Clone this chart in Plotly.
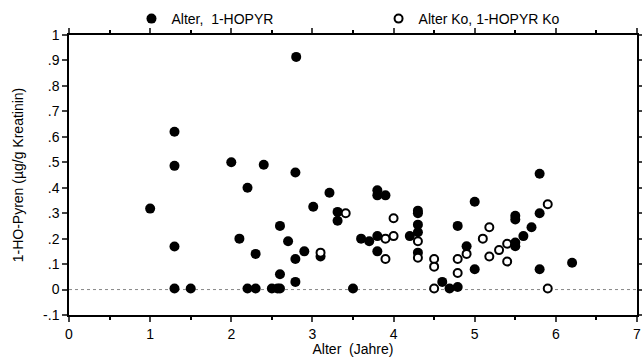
import plotly.graph_objects as go

# Filled series: Alter, 1-HOPYR
alter = [1.0, 1.3, 1.3, 1.3, 1.3, 1.5, 2.0, 2.1, 2.2, 2.2, 2.3, 2.3, 2.4, 2.5, 2.57,
         2.6, 2.6, 2.6, 2.7, 2.79, 2.79, 2.79, 2.8, 2.9, 3.01, 3.1, 3.21, 3.31, 3.31,
         3.5, 3.6, 3.7, 3.8, 3.8, 3.8, 3.8, 3.9, 4.2, 4.3, 4.3, 4.3, 4.3, 4.3,
         4.6, 4.69, 4.79, 4.79, 4.9, 5.0, 5.0, 5.5, 5.5, 5.5, 5.5, 5.6, 5.7,
         5.8, 5.8, 5.8, 6.2]
hopyr = [0.318, 0.62, 0.486, 0.169, 0.004, 0.004, 0.50, 0.20, 0.40, 0.004, 0.14, 0.004, 0.49, 0.004, 0.004,
         0.25, 0.06, 0.004, 0.19, 0.46, 0.12, 0.03, 0.914, 0.15, 0.325, 0.13, 0.38, 0.305, 0.27,
         0.004, 0.20, 0.19, 0.39, 0.37, 0.21, 0.15, 0.37, 0.21, 0.31, 0.30, 0.255, 0.225, 0.145,
         0.03, 0.004, 0.01, 0.25, 0.17, 0.345, 0.08, 0.29, 0.275, 0.185, 0.17, 0.21, 0.245,
         0.455, 0.30, 0.08, 0.105]

# Open series: Alter Ko, 1-HOPYR Ko
alter_ko = [3.1, 3.41, 3.9, 3.9, 4.0, 4.0, 4.3, 4.3, 4.5, 4.5, 4.5, 4.79, 4.79, 4.9,
            5.1, 5.18, 5.18, 5.3, 5.4, 5.4, 5.9, 5.9]
hopyr_ko = [0.145, 0.30, 0.20, 0.12, 0.28, 0.21, 0.19, 0.125, 0.12, 0.09, 0.004, 0.12, 0.065, 0.14,
            0.20, 0.245, 0.13, 0.155, 0.18, 0.11, 0.335, 0.004]

y_tickvals = [-0.1, 0, 0.1, 0.2, 0.3, 0.4, 0.5, 0.6, 0.7, 0.8, 0.9, 1.0]
y_ticktext = ["-.1", "0", ".1", ".2", ".3", ".4", ".5", ".6", ".7", ".8", ".9", "1"]
x_tickvals = [0, 1, 2, 3, 4, 5, 6, 7]

fig = go.Figure()
fig.add_trace(go.Scatter(
    x=alter, y=hopyr, mode="markers", name="Alter,  1-HOPYR", legend="legend",
    marker=dict(symbol="circle", size=10, color="black", line=dict(width=0)),
))
fig.add_trace(go.Scatter(
    x=alter_ko, y=hopyr_ko, mode="markers", name="Alter Ko, 1-HOPYR Ko", legend="legend2",
    marker=dict(symbol="circle", size=8, color="white", line=dict(width=2, color="black")),
))

fig.add_shape(type="line", xref="x", yref="y", x0=0, x1=7, y0=0, y1=0,
              line=dict(color="#888888", width=1, dash="dot"), layer="below")

leg_common = dict(orientation="h", y=1.0, xanchor="left", yanchor="bottom",
                  itemwidth=30, font=dict(size=14), bgcolor="rgba(0,0,0,0)",
                  tracegroupgap=0)

fig.update_layout(
    width=642, height=357,
    margin=dict(l=69, r=5, t=35, b=42, autoexpand=False),
    paper_bgcolor="white", plot_bgcolor="white",
    font=dict(family="Liberation Sans, Arial, sans-serif", size=13, color="black"),
    showlegend=True,
    legend=dict(x=0.11, **leg_common),
    legend2=dict(x=0.545, **leg_common),
    xaxis=dict(range=[0, 7], tickvals=x_tickvals, ticks="outside", ticklen=5,
               tickwidth=1.5, showline=True, linewidth=1.5, linecolor="black",
               mirror="ticks", showgrid=False, zeroline=False,
               tickfont=dict(size=14),
               minor=dict(ticks="outside", ticklen=3, dtick=0.5, tickcolor="black"),
               title=dict(text="Alter  (Jahre)", standoff=0, font=dict(size=14))),
    yaxis=dict(range=[-0.1, 1.0], tickvals=y_tickvals, ticktext=y_ticktext,
               ticks="outside", ticklen=5, tickwidth=1.5, showline=True, linewidth=1.5,
               linecolor="black", mirror="ticks", showgrid=False, zeroline=False,
               tickfont=dict(size=14),
               title=dict(text="1-HO-Pyren (µg/g Kreatinin)", standoff=16, font=dict(size=14))),
)

fig.write_html("out.html")
